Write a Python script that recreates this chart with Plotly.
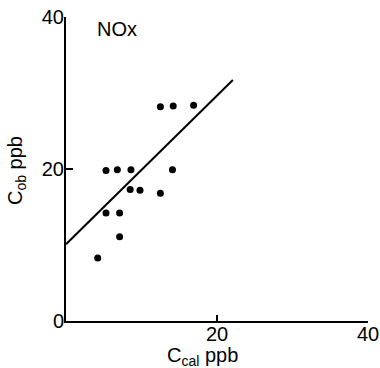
import plotly.graph_objects as go

# observed points (C_cal, C_ob) in ppb
c_cal = [4.2, 5.3, 5.3, 6.8, 7.1, 7.1, 8.6, 8.5, 9.8, 12.5, 14.1, 12.5, 14.2, 16.9]
c_ob = [8.3, 14.2, 19.8, 19.9, 14.2, 11.1, 19.9, 17.3, 17.2, 16.8, 19.9, 28.2, 28.3, 28.4]

# regression line endpoints
line_x = [0, 22.1]
line_y = [10.1, 31.7]

x_ticks = [20, 40]
y_ticks = [0, 20, 40]

font_family = "Liberation Sans, Arial, Helvetica, sans-serif"

fig = go.Figure()
fig.add_trace(go.Scatter(x=line_x, y=line_y, mode="lines",
                         line=dict(color="black", width=2), hoverinfo="skip"))
fig.add_trace(go.Scatter(x=c_cal, y=c_ob, mode="markers",
                         marker=dict(color="black", size=7)))

fig.update_layout(
    width=380, height=368,
    margin=dict(l=66, r=12, t=17, b=47, autoexpand=False),
    plot_bgcolor="white", paper_bgcolor="white",
    showlegend=False,
    font=dict(family=font_family, color="black", size=20),
    xaxis=dict(range=[0, 40], tickvals=x_ticks, ticktext=[str(v) for v in x_ticks],
               showline=True, linecolor="black", linewidth=2,
               ticks="inside", ticklen=6, tickwidth=2, tickcolor="black",
               showgrid=False, zeroline=False, automargin=False, ticklabelstandoff=-6,
               tickfont=dict(size=20, family=font_family, color="black")),
    yaxis=dict(range=[0, 40], tickvals=y_ticks, ticktext=[str(v) for v in y_ticks],
               showline=True, linecolor="black", linewidth=2,
               ticks="inside", ticklen=7, tickwidth=2, tickcolor="black",
               showgrid=False, zeroline=False, automargin=False, ticklabelstandoff=-4,
               tickfont=dict(size=20, family=font_family, color="black")),
)

fig.add_annotation(text="NOx", x=3.9, y=38.4, xref="x", yref="y",
                   xanchor="left", yanchor="middle", showarrow=False,
                   font=dict(size=20, family=font_family, color="black"))
fig.add_annotation(text="C<sub>cal</sub> ppb", x=(202 - 66) / 302, y=-(356 - 321) / 304,
                   xref="paper", yref="paper", xanchor="center", yanchor="middle",
                   showarrow=False, font=dict(size=20, family=font_family, color="black"))
fig.add_annotation(text="C<sub>ob</sub> ppb", x=(16 - 66) / 302, y=(321 - 170) / 304,
                   xref="paper", yref="paper", xanchor="center", yanchor="middle",
                   textangle=-90, showarrow=False,
                   font=dict(size=20, family=font_family, color="black"))

fig.write_html("out.html", config={"displayModeBar": False},
               post_script="document.body.style.margin='0';")
